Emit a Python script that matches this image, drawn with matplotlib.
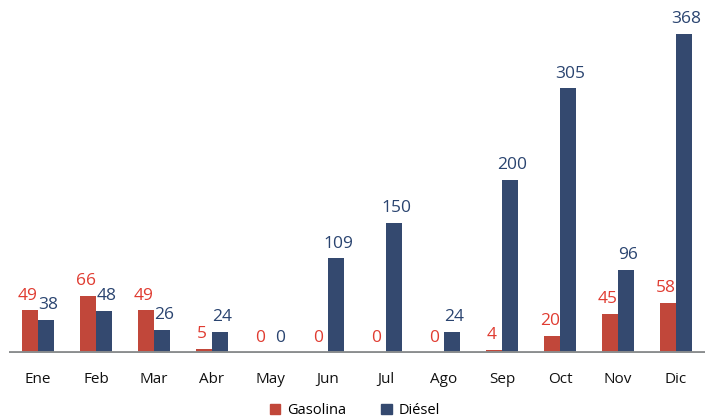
import numpy as np
import matplotlib.pyplot as plt
from matplotlib.patches import Patch

months = ['Ene', 'Feb', 'Mar', 'Abr', 'May', 'Jun', 'Jul', 'Ago', 'Sep', 'Oct', 'Nov', 'Dic']
gasolina = [49, 66, 49, 5, 0, 0, 0, 0, 4, 20, 45, 58]
diesel = [38, 48, 26, 24, 0, 109, 150, 24, 200, 305, 96, 368]

red = '#c1473a'
navy = '#34496f'
red_txt = '#e03c31'
navy_txt = '#2a4470'

plt.rcParams['font.family'] = ['Open Sans', 'DejaVu Sans']

fig = plt.figure(figsize=(7.1, 4.17), dpi=100)
ax = fig.add_axes([0.0127, 0.1535, 0.9803, 0.8465])

x = np.arange(len(months))
w = 0.28
ax.bar(x - w / 2, gasolina, w, color=red)
ax.bar(x + w / 2, diesel, w, color=navy)

for i in range(len(months)):
    ax.annotate(str(gasolina[i]), (x[i] - w / 2, gasolina[i]), xytext=(-1.5, 5),
                textcoords='offset points', ha='center', va='bottom',
                color=red_txt, fontsize=12.5)
    ax.annotate(str(diesel[i]), (x[i] + w / 2, diesel[i]), xytext=(1.5, 5),
                textcoords='offset points', ha='center', va='bottom',
                color=navy_txt, fontsize=12.5)

ax.axhline(0, color='#8b8e8f', lw=3.5, zorder=3)
ax.set_xlim(-0.5, 11.5)
ax.set_ylim(0, 407)
ax.set_xticks(x)
ax.set_xticklabels(months, fontsize=11, color='#111111')
ax.tick_params(axis='x', length=0, pad=14)
ax.set_yticks([])
for s in ax.spines.values():
    s.set_visible(False)

handles = [Patch(color=red, label='Gasolina'), Patch(color=navy, label='Diésel')]
fig.legend(handles=handles, loc='lower center', bbox_to_anchor=(0.5, -0.035), ncol=2,
           frameon=False, fontsize=10.5, handlelength=0.7, handleheight=0.7,
           handletextpad=0.5, columnspacing=2.4)

fig.savefig('out.png', dpi=100)
